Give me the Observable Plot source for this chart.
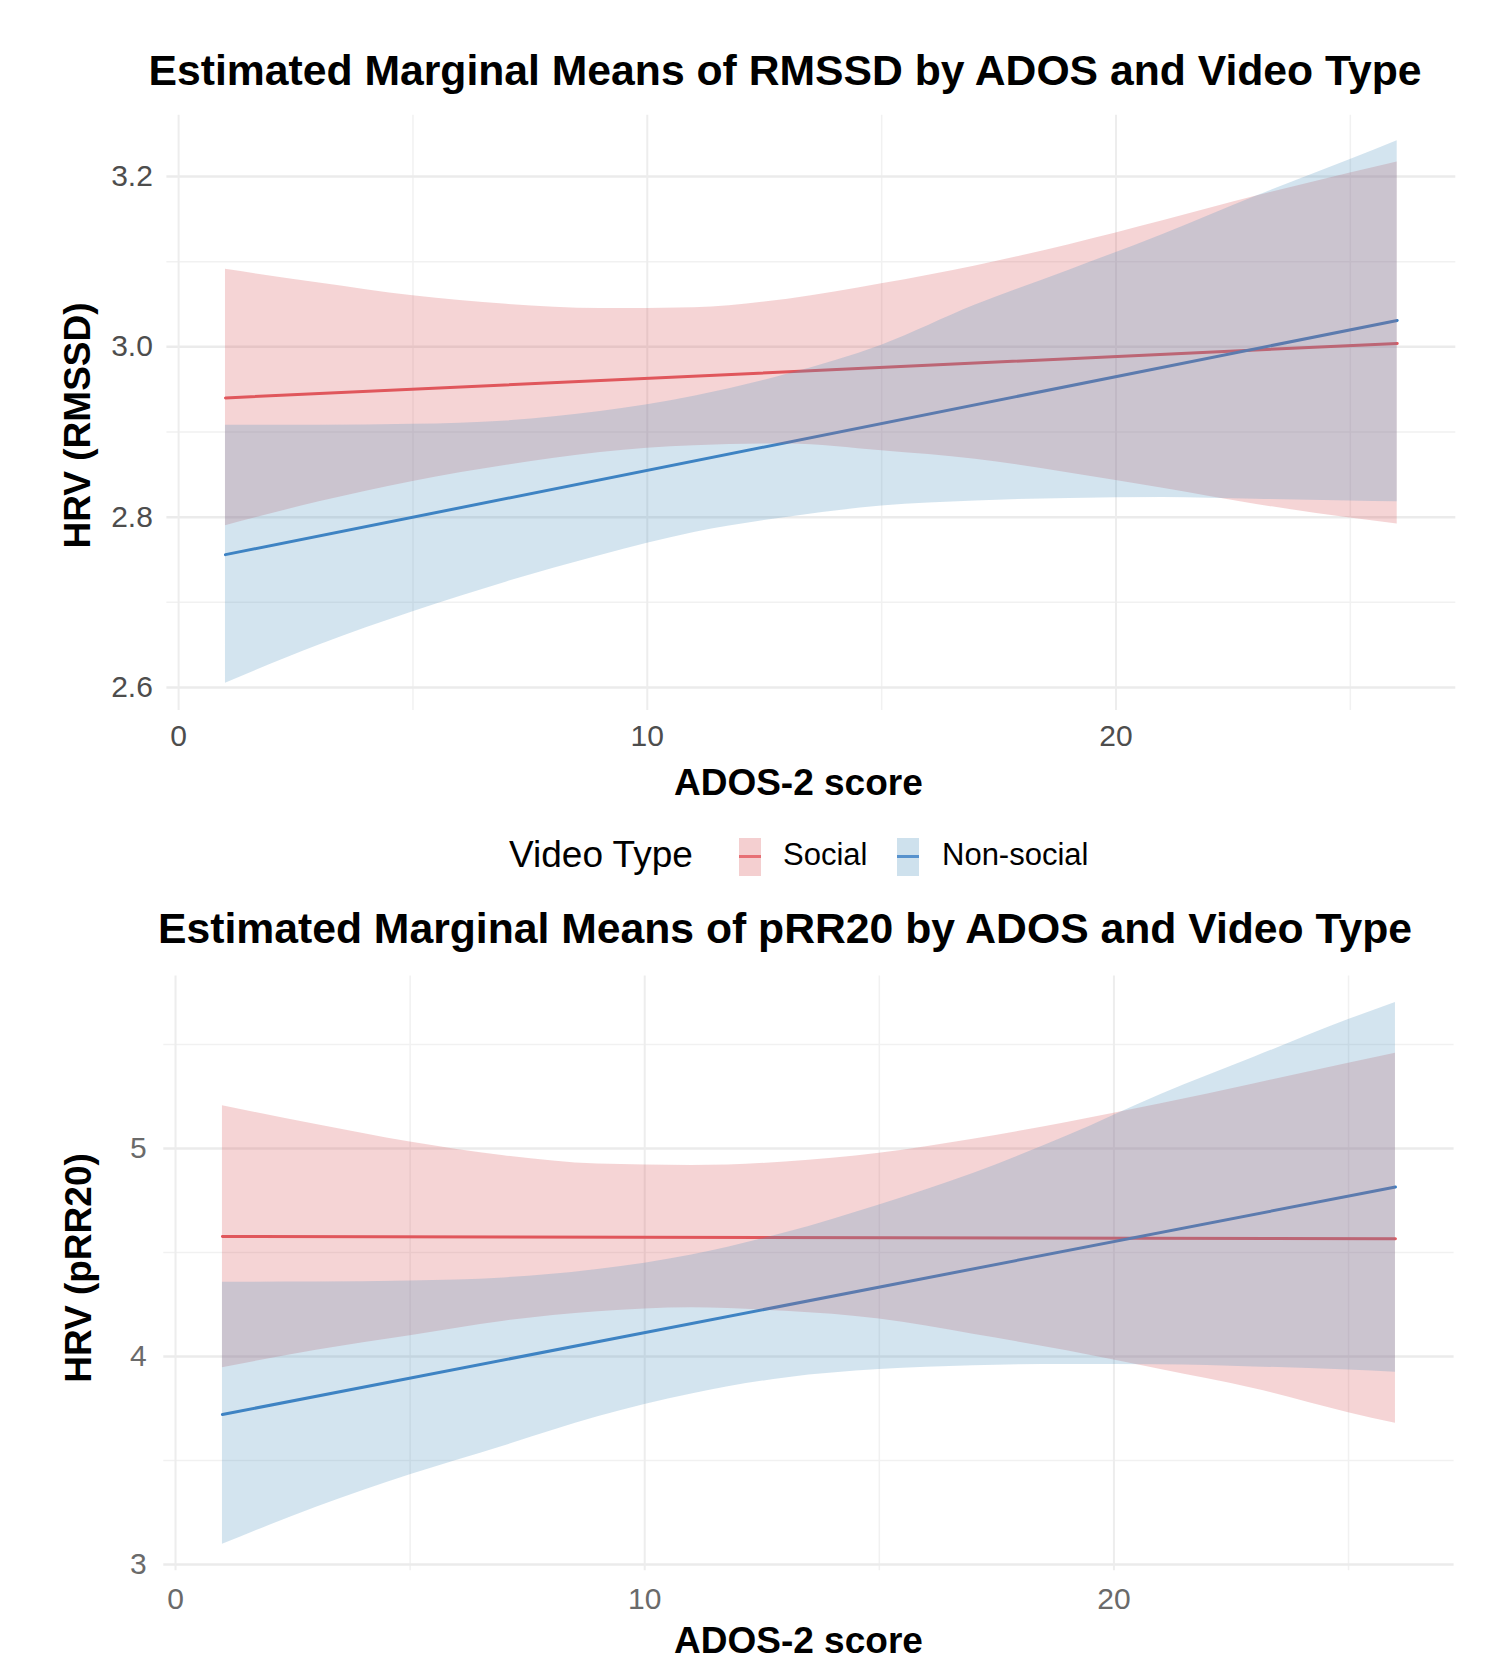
<!DOCTYPE html>
<html>
<head>
<meta charset="utf-8">
<script src="https://cdn.jsdelivr.net/npm/d3@7"></script>
<script src="https://cdn.jsdelivr.net/npm/@observablehq/plot@0.6"></script>
<style>
  html, body { margin: 0; padding: 0; background: #fff; }
  #page { position: relative; width: 1493px; height: 1663px; overflow: hidden; font-family: "Liberation Sans", Arial, sans-serif; background: #fff; }
  .chart { position: absolute; left: 0; }
  .title { position: absolute; left: 0; width: 1570px; text-align: center; font-weight: bold; font-size: 42.7px; line-height: 42px; color: #000; white-space: nowrap; }
  .legend-title { position: absolute; font-size: 37px; line-height: 37px; color: #000; white-space: nowrap; }
  .legend-label { position: absolute; font-size: 31px; line-height: 31px; color: #000; white-space: nowrap; }
  .key { position: absolute; width: 22px; height: 38px; }
  .key .ln { position: absolute; left: 0; right: 0; top: 17px; height: 3px; }
</style>
</head>
<body>
<div id="page">
  <div id="top" class="chart" style="top:100px"></div>
  <div id="bottom" class="chart" style="top:960px"></div>
  <div class="title" style="top:49px">Estimated Marginal Means of RMSSD by ADOS and Video Type</div>
  <div class="title" style="top:907px">Estimated Marginal Means of pRR20 by ADOS and Video Type</div>
  <div id="legend"></div>
</div>
<script>
// ---------- data ----------
const adosGrid = [1, 3, 5, 7, 9, 11, 13, 15, 17, 19, 21, 23, 25, 26];
const adosEnds = [1, 26];
const videoTypes = ["Social", "Non-social"];

// RMSSD
const rmssdSocialLine = [2.940, 3.004];
const rmssdNonSocialLine = [2.756, 3.031];
const rmssdSocialLower = [2.790, 2.818, 2.842, 2.861, 2.876, 2.884, 2.886, 2.878, 2.868, 2.852, 2.834, 2.815, 2.799, 2.792];
const rmssdSocialUpper = [3.091, 3.075, 3.060, 3.050, 3.045, 3.046, 3.056, 3.074, 3.095, 3.120, 3.148, 3.177, 3.204, 3.217];
const rmssdNonSocialLower = [2.605, 2.650, 2.689, 2.724, 2.755, 2.782, 2.800, 2.813, 2.819, 2.822, 2.823, 2.821, 2.819, 2.818];
const rmssdNonSocialUpper = [2.908, 2.908, 2.909, 2.913, 2.924, 2.942, 2.968, 3.002, 3.049, 3.090, 3.132, 3.177, 3.220, 3.242];

// pRR20
const prr20SocialLine = [4.577, 4.566];
const prr20NonSocialLine = [3.721, 4.815];
const prr20SocialLower = [3.946, 4.030, 4.100, 4.170, 4.215, 4.234, 4.217, 4.180, 4.107, 4.027, 3.937, 3.845, 3.730, 3.679];
const prr20SocialUpper = [5.206, 5.115, 5.031, 4.965, 4.925, 4.918, 4.935, 4.977, 5.045, 5.125, 5.215, 5.312, 5.410, 5.458];
const prr20NonSocialLower = [3.097, 3.275, 3.431, 3.570, 3.710, 3.820, 3.897, 3.937, 3.955, 3.962, 3.960, 3.950, 3.935, 3.924];
const prr20NonSocialUpper = [4.357, 4.358, 4.363, 4.378, 4.418, 4.488, 4.595, 4.729, 4.880, 5.060, 5.260, 5.440, 5.620, 5.702];

// axes
const xTicksMajor = [0, 10, 20];
const xTicksMinor = [5, 15, 25];
const rmssdTicksMajor = [2.6, 2.8, 3.0, 3.2];
const rmssdTicksMinor = [2.7, 2.9, 3.1];
const prr20TicksMajor = [3, 4, 5];
const prr20TicksMinor = [3.5, 4.5, 5.5];

// ---------- styles ----------
const colors = {
  "Social": { fill: "rgb(215,83,87)", line: "#e3585e" },
  "Non-social": { fill: "rgb(80,147,191)", line: "#397ec4" }
};

function bandRows(type, lower, upper) {
  return adosGrid.map((x, i) => ({ type, x, lo: lower[i], hi: upper[i] }));
}
function lineRows(type, vals) {
  return adosEnds.map((x, i) => ({ type, x, y: vals[i] }));
}

function makeChart(cfg) {
  const bands = [bandRows("Social", cfg.sLo, cfg.sHi), bandRows("Non-social", cfg.nLo, cfg.nHi)];
  const lines = [lineRows("Social", cfg.sLine), lineRows("Non-social", cfg.nLine)];
  return Plot.plot({
    width: 1493,
    height: cfg.height,
    marginLeft: cfg.ml,
    marginRight: cfg.mr,
    marginTop: cfg.mt,
    marginBottom: cfg.mb,
    style: { fontFamily: "'Liberation Sans', Arial, sans-serif", background: "transparent" },
    x: { domain: [-0.25, 27.25] },
    y: { domain: cfg.yDomain },
    marks: [
      Plot.gridY(cfg.yMinor, { stroke: "#f1f1f1", strokeOpacity: 1, strokeWidth: 1.5 }),
      Plot.gridX(xTicksMinor, { stroke: "#f1f1f1", strokeOpacity: 1, strokeWidth: 1.5 }),
      Plot.gridY(cfg.yMajor, { stroke: "#ebebeb", strokeOpacity: 1, strokeWidth: 2.5 }),
      Plot.gridX(xTicksMajor, { stroke: "#ededed", strokeOpacity: 1, strokeWidth: 2 }),
      ...lines.map((rows, k) => Plot.line(rows, { x: "x", y: "y", stroke: colors[videoTypes[k]].line, strokeWidth: 3 })),
      ...bands.map((rows, k) => Plot.areaY(rows, { x: "x", y1: "lo", y2: "hi", fill: colors[videoTypes[k]].fill, fillOpacity: 0.25, curve: "monotone-x" })),
      Plot.axisX(xTicksMajor, { tickSize: 0, tickPadding: cfg.tp, fontSize: 30, color: cfg.tickColor, label: null }),
      Plot.axisY(cfg.yMajor, { tickSize: 0, tickPadding: cfg.tp, fontSize: 30, color: cfg.tickColor, label: null, tickFormat: cfg.fmt }),
      Plot.text(["ADOS-2 score"], { frameAnchor: "bottom", lineAnchor: "bottom", textAnchor: "middle", text: d => d, dy: cfg.xTitleDy, dx: cfg.xTitleDx, fontSize: 37, fontWeight: "bold", fill: "#000" }),
      Plot.text([cfg.yTitle], { frameAnchor: "left", lineAnchor: "bottom", textAnchor: "middle", rotate: -90, text: d => d, dx: cfg.yTitleDx, dy: cfg.yTitleDy, fontSize: 37, fontWeight: "bold", fill: "#000" })
    ]
  });
}

document.getElementById("top").appendChild(makeChart({
  height: 720, ml: 166.4, mr: 37.7, mt: 14.7, mb: 110,
  yDomain: [2.573, 3.272], yMajor: rmssdTicksMajor, yMinor: rmssdTicksMinor,
  sLo: rmssdSocialLower, sHi: rmssdSocialUpper, nLo: rmssdNonSocialLower, nHi: rmssdNonSocialUpper,
  sLine: rmssdSocialLine, nLine: rmssdNonSocialLine,
  tp: 14, tickColor: "#4d4d4d", fmt: d3.format(".1f"),
  xTitleDy: 84, xTitleDx: -13,
  yTitle: "HRV (RMSSD)", yTitleDx: -76.4, yTitleDy: 12.6
}));

document.getElementById("bottom").appendChild(makeChart({
  height: 703, ml: 163.3, mr: 39.4, mt: 15.4, mb: 92.8,
  yDomain: [2.97, 5.83], yMajor: prr20TicksMajor, yMinor: prr20TicksMinor,
  sLo: prr20SocialLower, sHi: prr20SocialUpper, nLo: prr20NonSocialLower, nHi: prr20NonSocialUpper,
  sLine: prr20SocialLine, nLine: prr20NonSocialLine,
  tp: 17, tickColor: "#6a6a6a", fmt: d3.format("d"),
  xTitleDy: 82, xTitleDx: -10.5,
  yTitle: "HRV (pRR20)", yTitleDx: -73.3, yTitleDy: -5.3
}));

// ---------- legend ----------
const legend = document.getElementById("legend");
const lt = document.createElement("div");
lt.className = "legend-title";
lt.style.left = "509px"; lt.style.top = "835.7px";
lt.textContent = "Video Type";
legend.appendChild(lt);
const keyX = [739, 897];
const labelX = [783, 942];
videoTypes.forEach((t, i) => {
  const key = document.createElement("div");
  key.className = "key";
  key.style.left = keyX[i] + "px"; key.style.top = "838px";
  key.style.background = colors[t].fill.replace("rgb", "rgba").replace(")", ",0.28)");
  const ln = document.createElement("div");
  ln.className = "ln";
  ln.style.background = colors[t].line;
  ln.style.opacity = "0.8";
  key.appendChild(ln);
  legend.appendChild(key);
  const lab = document.createElement("div");
  lab.className = "legend-label";
  lab.style.left = labelX[i] + "px"; lab.style.top = "839px";
  lab.textContent = t;
  legend.appendChild(lab);
});
</script>
</body>
</html>
